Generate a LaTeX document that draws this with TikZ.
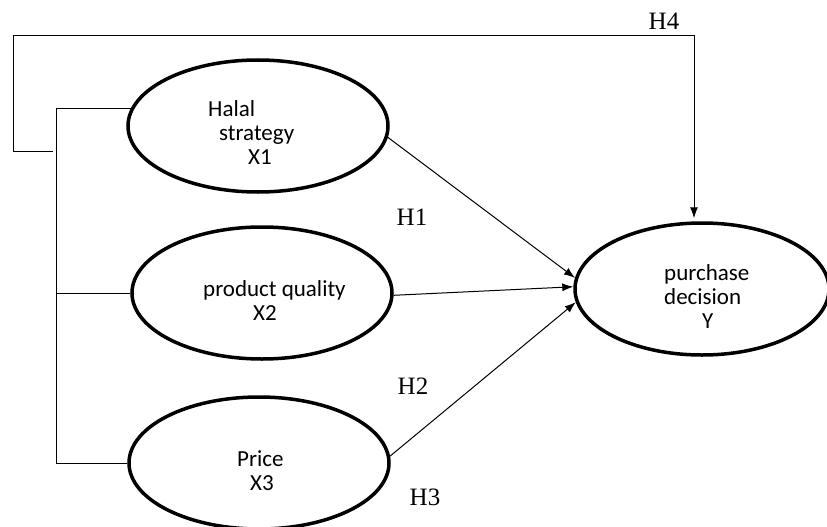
\documentclass[tikz,border=0pt]{standalone}
\usepackage{fontspec}
\setmainfont{Liberation Serif}
\newfontfamily\calibri{Carlito}
\usetikzlibrary{shapes.geometric,arrows.meta}

\tikzset{
  construct/.style={ellipse, draw, line width=3.5pt, minimum width=260pt, minimum height=132pt, inner sep=0pt},
  vartext/.style={font=\calibri\fontsize{23}{24}\selectfont, align=left, inner sep=0pt, anchor=north west},
  hyp/.style={font=\fontsize{25}{27}\selectfont, inner sep=0pt},
  link/.style={line width=1pt},
  effect/.style={link, -{Latex[length=11pt,width=8pt]}}
}

\begin{document}
\begin{tikzpicture}[x=1pt, y=1pt, yscale=-1]
\useasboundingbox (0,0) rectangle (827,527);

% constructs
\node[construct] (halal) at (258,126) {};
\node[construct] (quality) at (262,293) {};
\node[construct] (price) at (259,463) {};
\node[construct, minimum width=254pt] (decision) at (702,289) {};

\node[vartext] (halalname) at (208,100) {Halal\\\hspace{11pt}strategy\\\hspace{40pt}X1};
\node[vartext] (qualityname) at (203,280) {product quality\\\hspace{50pt}X2};
\node[vartext] (pricename) at (237,450) {Price\\\hspace{13pt}X3};
\node[vartext] (decisionname) at (664,264) {purchase\\decision\\\hspace{38pt}Y};

% hypotheses
\node[hyp] (h1) at (412,217) {H1};
\node[hyp] (h2) at (413,386) {H2};
\node[hyp] (h3) at (425,497) {H3};
\node[hyp] (h4) at (664,21) {H4};

% left bracket
\coordinate (bus) at (56,0);
\coordinate (stub) at (53,151);
\coordinate (corner) at (13,36);
\coordinate (drop) at (694,36);
\draw[link] (halal.172) -- (halal.172 -| bus) -- (price.west -| bus) -- (price.west);
\draw[link] (quality.west) -- (quality.west -| bus);
\draw[effect, shorten >=3pt] (stub) -| (corner) -- (drop) -- (drop |- decision.north);

% paths
\draw[effect] (halal.-5) -- (decision.175);
\draw[effect] (quality.-1) -- (decision.179);
\draw[effect] (price.3) -- (decision.186);
\end{tikzpicture}
\end{document}
